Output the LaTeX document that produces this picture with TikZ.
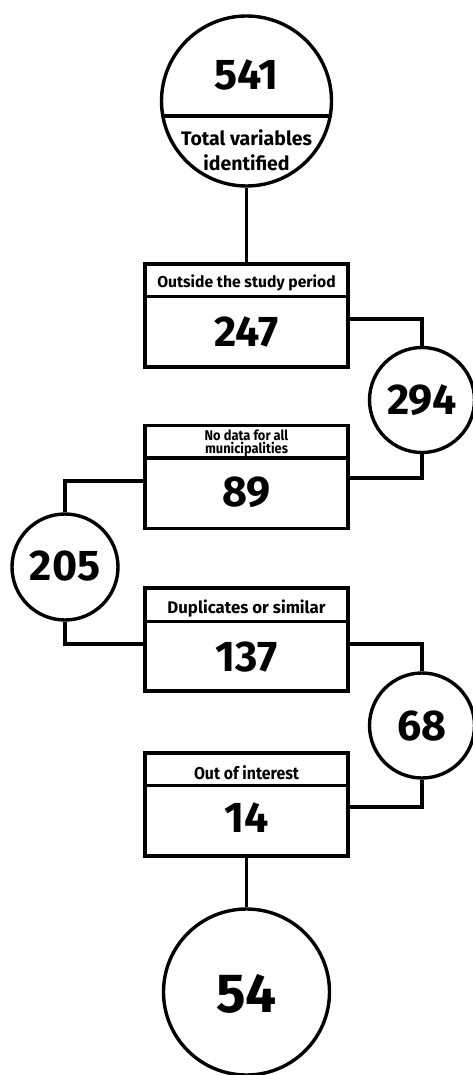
\documentclass[tikz,border=0pt]{standalone}
\usepackage{fontspec}
\setmainfont{Fira Sans}
\newfontfamily\narrowfont{Fira Sans}[FakeStretch=0.92]
\usetikzlibrary{calc}
\begin{document}
\begin{tikzpicture}[x=1pt,y=-1pt,line width=3.4pt,
  box/.style={draw,rectangle,minimum width=203pt,minimum height=103pt,inner sep=0pt},
  ring/.style={draw,circle,inner sep=0pt},
  num/.style={inner sep=0pt,font=\fontsize{43}{43}\selectfont\bfseries},
  bignum/.style={inner sep=0pt,font=\fontsize{55}{55}\selectfont\bfseries},
  lab/.style={inner sep=0pt,anchor=base,font=\fontsize{15.7}{16}\selectfont\bfseries},
  labb/.style={inner sep=0pt,anchor=base,font=\fontsize{16.8}{17}\selectfont\bfseries},
  labc/.style={inner sep=0pt,anchor=base,font=\narrowfont\fontsize{17.2}{17}\selectfont\bfseries},
  conn/.style={line width=3.4pt}]
\useasboundingbox (0,0) rectangle (473,1075);

% top circle
\node[ring,minimum size=170pt] (c0) at (246.5,101) {};
\begin{scope}
  \clip (c0.center) circle (85pt);
  \draw (0,116) -- (473,116);
\end{scope}
\node[num] (n0) at (246.5,75) {541};
\node[inner sep=0pt,align=center,font=\fontsize{19.5}{25}\selectfont\bfseries] (t0) at (246.5,150) {Total variables\\identified};

% boxes
\node[box] (b1) at (246.5,315.5) {};
\draw (b1.north west) ++(0,34) -- ++(203,0);
\node[lab] (t1) at (246.5,287) {Outside the study period};
\node[num] (n1) at (246.5,332) {247};

\node[box] (b2) at (246.5,477) {};
\draw (b2.north west) ++(0,34) -- ++(203,0);
\node[inner sep=0pt,align=center,font=\narrowfont\fontsize{14}{11}\selectfont\bfseries] (t2) at (246.5,443) {No data for all\\municipalities};
\node[num] (n2) at (246.5,492) {89};

\node[box] (b3) at (246.5,639.5) {};
\draw (b3.north west) ++(0,35) -- ++(203,0);
\node[labb] (t3) at (246.5,613) {Duplicates or similar};
\node[num] (n3) at (246.5,657.5) {137};

\node[box] (b4) at (246.5,804.5) {};
\draw (b4.north west) ++(0,34) -- ++(203,0);
\node[labc] (t4) at (246.5,779) {Out of interest};
\node[num] (n4) at (246.5,818) {14};

% side circles
\node[ring,minimum size=105pt] (c1) at (422,400) {};
\node[num] (n5) at (422,400) {294};
\node[ring,minimum size=106pt] (c2) at (65,567) {};
\node[num] (n6) at (65,566) {205};
\node[ring,minimum size=105pt] (c3) at (422,725.5) {};
\node[num] (n7) at (422,726) {68};

% bottom circle
\node[ring,minimum size=166pt] (c4) at (246.5,992) {};
\node[bignum] (n8) at (246.5,994) {54};

% connectors
\draw[conn] (c0.south) -- (b1.north);
\draw[conn] ($(b1.east)+(0,3.5)$) -| (c1.north);
\draw[conn] (c1.south) |- ($(b2.east)+(0,1)$);
\draw[conn] ($(b2.west)+(0,4)$) -| (c2.north);
\draw[conn] (c2.south) |- ($(b3.west)+(0,4.5)$);
\draw[conn] ($(b3.east)+(0,4.5)$) -| (c3.north);
\draw[conn] (c3.south) |- ($(b4.east)+(0,2.5)$);
\draw[conn] (b4.south) -- (c4.north);
\end{tikzpicture}
\end{document}
